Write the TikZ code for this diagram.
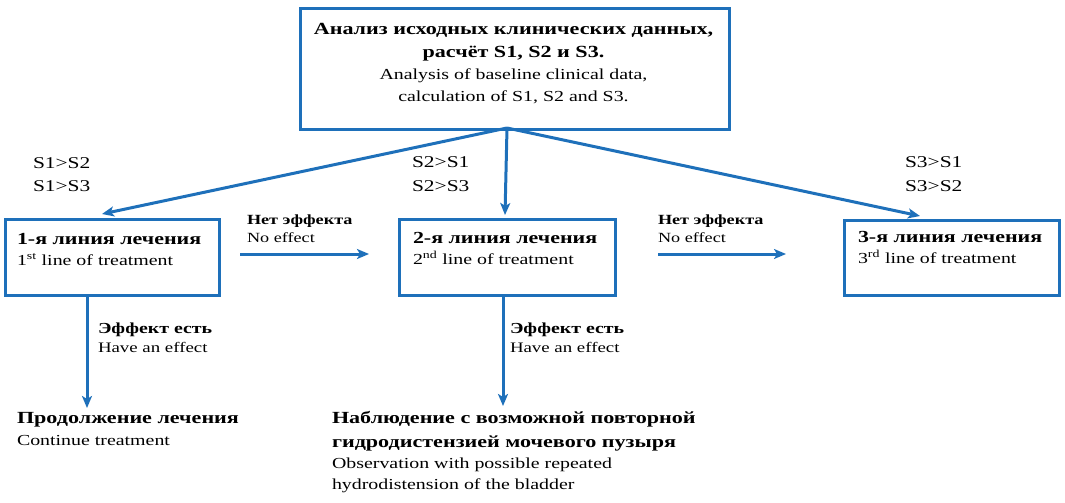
\documentclass[tikz,border=0pt]{standalone}
\usepackage{fontspec}
\setmainfont{Liberation Serif}[FakeStretch=1.3]
\usetikzlibrary{arrows.meta}
\definecolor{fblue}{RGB}{30,112,186}
\tikzset{
 box/.style={draw=fblue, line width=3pt, rectangle, anchor=north west, inner sep=0pt},
 arr/.style={draw=fblue, line width=3pt, -{Stealth[length=12pt,width=10pt,inset=3pt]}},
 tl/.style={anchor=base west, inner sep=0pt, outer sep=0pt},
 tc/.style={anchor=base, inner sep=0pt, outer sep=0pt},
 rubig/.style={font=\fontsize{17}{20}\selectfont\bfseries},
 ru/.style={font=\fontsize{16.9}{19}\selectfont\bfseries},
 rum/.style={font=\fontsize{15.3}{18}\selectfont\bfseries},
 rus/.style={font=\fontsize{14}{17}\selectfont\bfseries},
 en/.style={font=\fontsize{15.3}{18}\selectfont},
 enm/.style={font=\fontsize{14.5}{17}\selectfont},
 ens/.style={font=\fontsize{14}{17}\selectfont},
 sl/.style={font=\fontsize{16.5}{19}\selectfont},
}
\begin{document}
\begin{tikzpicture}[x=1pt,y=-1pt]
\useasboundingbox (0,0) rectangle (1065,503);
% boxes
\node[box, minimum width=429pt, minimum height=121pt] (top) at (299,7) {};
\node[box, minimum width=214pt, minimum height=76pt] (b1) at (4,218) {};
\node[box, minimum width=216pt, minimum height=76pt] (b2) at (398,218) {};
\node[box, minimum width=215pt, minimum height=75pt] (b3) at (843,219) {};
% top text
\node[tc, rubig] (t1) at (513.5,35) {Анализ исходных клинических данных,};
\node[tc, rubig] (t2) at (513.5,58) {расчёт S1, S2 и S3.};
\node[tc, en] (t3) at (513.5,80) {Analysis of baseline clinical data,};
\node[tc, en] (t4) at (513.5,101) {calculation of S1, S2 and S3.};
% box texts
\node[tl, ru] (l1a) at (17,244) {1-я линия лечения};
\node[tl, en] (l1b) at (17,265) {1\textsuperscript{st} line of treatment};
\node[tl, ru] (l2a) at (413,243) {2-я линия лечения};
\node[tl, en] (l2b) at (413,264) {2\textsuperscript{nd} line of treatment};
\node[tl, ru] (l3a) at (858,242) {3-я линия лечения};
\node[tl, en] (l3b) at (858,263) {3\textsuperscript{rd} line of treatment};
% S labels
\node[tl, sl] (s1a) at (33,168) {S1>S2};
\node[tl, sl] (s1b) at (33,191) {S1>S3};
\node[tl, sl] (s2a) at (412,167) {S2>S1};
\node[tl, sl] (s2b) at (412,191) {S2>S3};
\node[tl, sl] (s3a) at (905,167) {S3>S1};
\node[tl, sl] (s3b) at (905,191) {S3>S2};
% no effect
\node[tl, rus] (n1a) at (247,224) {Нет эффекта};
\node[tl, ens] (n1b) at (247,242) {No effect};
\node[tl, rus] (n2a) at (658,224) {Нет эффекта};
\node[tl, ens] (n2b) at (658,242) {No effect};
% effect
\node[tl, rum] (e1a) at (98,333) {Эффект есть};
\node[tl, enm] (e1b) at (98,352) {Have an effect};
\node[tl, rum] (e2a) at (510,333) {Эффект есть};
\node[tl, enm] (e2b) at (510,352) {Have an effect};
% outcomes
\node[tl, rubig] (o1a) at (17,423) {Продолжение лечения};
\node[tl, en] (o1b) at (17,445) {Continue treatment};
\node[tl, rubig] (o2a) at (332,423) {Наблюдение с возможной повторной};
\node[tl, rubig] (o2b) at (332,447) {гидродистензией мочевого пузыря};
\node[tl, en] (o2c) at (332,468) {Observation with possible repeated};
\node[tl, en] (o2d) at (332,489) {hydrodistension of the bladder};
% connector points
\coordinate (fork) at (507,128);
\coordinate (tip1) at (102,214);
\coordinate (tip2) at (505,215);
\coordinate (tip3) at (920,216);
\coordinate (h1s) at (240,254);
\coordinate (h1e) at (369,254);
\coordinate (h2s) at (658,254);
\coordinate (h2e) at (786,254);
\coordinate (v1s) at (87,294);
\coordinate (v1e) at (87,408);
\coordinate (v2s) at (503,294);
\coordinate (v2e) at (503,406);
% arrows
\draw[arr] (fork) -- (tip1);
\draw[arr] (fork) -- (tip2);
\draw[arr] (fork) -- (tip3);
\draw[arr] (h1s) -- (h1e);
\draw[arr] (h2s) -- (h2e);
\draw[arr] (v1s) -- (v1e);
\draw[arr] (v2s) -- (v2e);
\end{tikzpicture}
\end{document}
